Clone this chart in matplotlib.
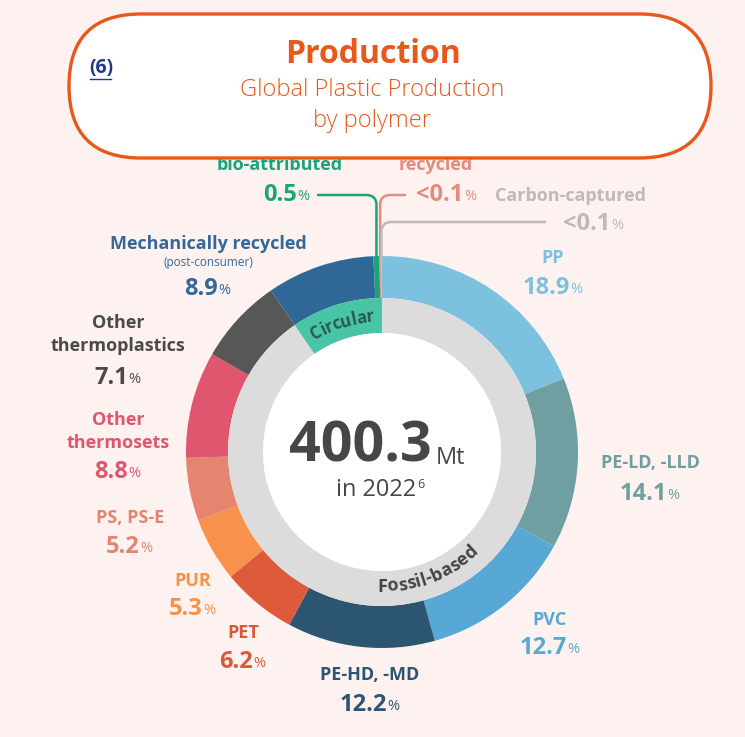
import numpy as np
import matplotlib
matplotlib.use("Agg")
import matplotlib.pyplot as plt
from matplotlib.patches import FancyBboxPatch

# --- data -------------------------------------------------------------
polymers = [
    "PP", "PE-LD, -LLD", "PVC", "PE-HD, -MD", "PET", "PUR", "PS, PS-E",
    "Other thermosets", "Other thermoplastics", "Mechanically recycled",
    "bio-attributed", "recycled", "Carbon-captured",
]
shares = [18.9, 14.1, 12.7, 12.2, 6.2, 5.3, 5.2, 8.8, 7.1, 8.9, 0.5, 0.1, 0.1]
share_text = ["18.9", "14.1", "12.7", "12.2", "6.2", "5.3", "5.2", "8.8",
              "7.1", "8.9", "0.5", "<0.1", "<0.1"]
is_circular = [False] * 9 + [True] * 4
total_mt = "400.3"
year = "2022"

colors = ["#7cc2df", "#6f9fa1", "#58a8d6", "#2c5571", "#dd5a3a", "#f8914a",
          "#e5846f", "#e0566f", "#575757", "#2f6796", "#1ba47b", "#e58b7c",
          "#c9c6c5"]
text_colors = ["#7cc2df", "#6f9fa1", "#58a8d6", "#2c5571", "#d9583a",
               "#f8914a", "#e5846f", "#e0566f", "#4a4a4a", "#33699a",
               "#1ba47b", "#e58b7c", "#bdbab9"]

W, H = 745, 737
BG = "#fdf2ef"
ORANGE = "#e8581a"
FONT = "Open Sans"

CX, CY = 382, 452          # ring centre (pixels from top-left)
R_OUT, R_MID, R_IN = 196, 154, 119


def Y(y):
    return H - y


fig = plt.figure(figsize=(W / 100, H / 100), dpi=100, facecolor=BG)
ax = fig.add_axes([0, 0, 1, 1])
ax.set_xlim(0, W)
ax.set_ylim(0, H)
ax.set_aspect("equal")
ax.axis("off")
ax.set_facecolor(BG)

# outer ring: polymers
wedges, _ = ax.pie(shares, colors=colors, radius=R_OUT, center=(CX, Y(CY)),
                   startangle=90, counterclock=False,
                   wedgeprops=dict(width=R_OUT - R_MID, edgecolor="none"))

# inner ring: fossil-based vs circular
fossil = sum(s for s, c in zip(shares, is_circular) if not c)
circular = sum(s for s, c in zip(shares, is_circular) if c)
inner, _ = ax.pie([fossil, circular], colors=["#dcdcdc", "#48c5a5"],
                  radius=R_MID, center=(CX, Y(CY)), startangle=90,
                  counterclock=False,
                  wedgeprops=dict(width=R_MID - R_IN, edgecolor="none"))
ax.pie([1], colors=["white"], radius=R_IN, center=(CX, Y(CY)),
       wedgeprops=dict(edgecolor="none"))
ax.set_xlim(0, W)
ax.set_ylim(0, H)

renderer = fig.canvas.get_renderer()


def curved_text(s, radius, mid_deg, size, color, top=True):
    """Write s along a circle, centred on angle mid_deg."""
    widths = []
    for ch in s:
        t = ax.text(0, 0, ch, fontsize=size, family=FONT, weight="bold")
        widths.append(t.get_window_extent(renderer).width)
        t.remove()
    total = sum(widths)
    span = np.degrees(total / radius)
    ang = mid_deg + span / 2 if top else mid_deg - span / 2
    for ch, w in zip(s, widths):
        step = np.degrees(w / radius)
        a = ang - step / 2 if top else ang + step / 2
        x = CX + radius * np.cos(np.radians(a))
        y = Y(CY) + radius * np.sin(np.radians(a))
        rot = a - 90 if top else a + 90
        ax.text(x, y, ch, fontsize=size, family=FONT, weight="bold",
                color=color, rotation=rot, rotation_mode="anchor",
                ha="center", va="center")
        ang = ang - step if top else ang + step


mid_circ = 0.5 * (inner[1].theta1 + inner[1].theta2)
curved_text("Circular", (R_MID + R_IN) / 2 - 1, mid_circ, 12, "#2b5a52", top=True)
curved_text("Fossil-based", (R_MID + R_IN) / 2 - 2, -69, 13, "#444444", top=False)

# centre text
t = ax.text(360, Y(447), total_mt, fontsize=40, family=FONT, weight="bold",
            color="#464646", ha="center", va="center")
ax.annotate("Mt", xy=(1, 0.08), xycoords=t, xytext=(3, 0),
            textcoords="offset points", fontsize=17, family=FONT,
            color="#464646", va="bottom", ha="left")
t2 = ax.text(376, Y(490), "in " + year, fontsize=17, family=FONT,
             color="#464646", ha="center", va="center")
ax.annotate("6", xy=(1, 0.75), xycoords=t2, xytext=(0.5, 0),
            textcoords="offset points", fontsize=9, family=FONT,
            color="#464646", va="center", ha="left")


def pct_label(x, y, value, color, size=17):
    num = ax.text(x - 7, Y(y), value, fontsize=size, family=FONT,
                  weight="bold", color=color, ha="center", va="center")
    ax.annotate("%", xy=(1, 0.12), xycoords=num, xytext=(0.5, 0),
                textcoords="offset points", fontsize=size * 0.62,
                family=FONT, color=color, va="bottom", ha="left")


def name_label(x, y, lines, color, size=13):
    for i, ln in enumerate(lines):
        ax.text(x, Y(y + i * 23), ln, fontsize=size, family=FONT,
                weight="bold", color=color, ha="center", va="center")


# polymer labels: (x, y of name, name lines, y of value)
labels = {
    "PP": (553, 258, ["PP"], 288),
    "PE-LD, -LLD": (650, 463, ["PE-LD, -LLD"], 494),
    "PVC": (550, 620, ["PVC"], 648),
    "PE-HD, -MD": (370, 675, ["PE-HD, -MD"], 705),
    "PET": (243, 633, ["PET"], 662),
    "PUR": (193, 581, ["PUR"], 609),
    "PS, PS-E": (130, 518, ["PS, PS-E"], 547),
    "Other thermosets": (118, 420, ["Other", "thermosets"], 472),
    "Other thermoplastics": (118, 323, ["Other", "thermoplastics"], 378),
    "Mechanically recycled": (208, 244, ["Mechanically recycled"], 289),
}
for i, name in enumerate(polymers):
    if name not in labels:
        continue
    x, yn, lines, yv = labels[name]
    name_label(x, yn, lines, text_colors[i])
    pct_label(x, yv, share_text[i], text_colors[i])
ax.text(208, Y(262), "(post-consumer)", fontsize=8.5, family=FONT,
        color=text_colors[9], ha="center", va="center")

# tiny slices with leader lines
small = {
    "bio-attributed": dict(name_xy=(280, 165), val_xy=(287, 195),
                           line_end=(318, 195)),
    "recycled": dict(name_xy=(436, 165), val_xy=(447, 195),
                     line_end=(405, 195)),
    "Carbon-captured": dict(name_xy=(570, 196), val_xy=(594, 224),
                            line_end=(545, 222)),
}
for i, name in enumerate(polymers):
    if name not in small:
        continue
    s = small[name]
    w = wedges[i]
    mid = np.radians(0.5 * (w.theta1 + w.theta2))
    ring_pt = (CX + R_OUT * np.cos(mid), Y(CY) + R_OUT * np.sin(mid) - 3)
    lx, ly = s["line_end"]
    ax.annotate("", xy=ring_pt, xytext=(lx, Y(ly)),
                arrowprops=dict(arrowstyle="-", color=text_colors[i], lw=1.8,
                                shrinkA=0, shrinkB=0,
                                connectionstyle="angle,angleA=0,angleB=90,rad=10"))
    nx, ny = s["name_xy"]
    ax.text(nx, Y(ny), name, fontsize=13, family=FONT, weight="bold",
            color=text_colors[i], ha="center", va="center", zorder=2)
    vx, vy = s["val_xy"]
    pct_label(vx, vy, share_text[i], text_colors[i])

# title pill
box = FancyBboxPatch((69, Y(158)), 642, 144,
                     boxstyle="round,pad=0,rounding_size=72",
                     facecolor="white", edgecolor=ORANGE, lw=2.4, zorder=5)
ax.add_patch(box)
ax.text(373, Y(54), "Production", fontsize=23, family=FONT, weight="bold",
        color=ORANGE, ha="center", va="center", zorder=6)
ax.text(372, Y(90), "Global Plastic Production", fontsize=17, family=FONT,
        weight="light", color=ORANGE, ha="center", va="center", zorder=6)
ax.text(372, Y(121), "by polymer", fontsize=17, family=FONT,
        weight="light", color=ORANGE, ha="center", va="center", zorder=6)
ax.text(101, Y(68), "(6)", fontsize=14, family=FONT, weight="bold",
        color="#1f3a8a", ha="center", va="center", zorder=6)
ax.plot([90, 111], [Y(79), Y(79)], color="#1f3a8a", lw=1, zorder=6)

fig.savefig("out.png", dpi=100, facecolor=BG)
